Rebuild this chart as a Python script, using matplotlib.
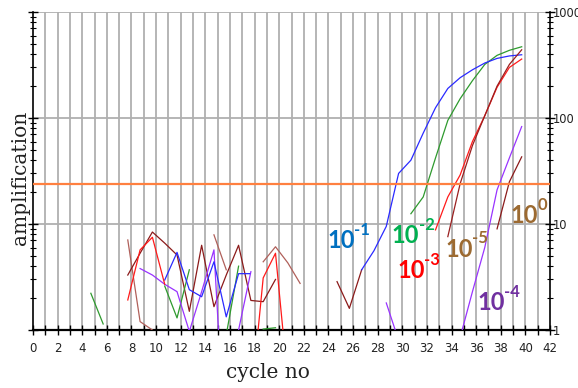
import numpy as np
import matplotlib
matplotlib.use("Agg")
import matplotlib.pyplot as plt
from matplotlib.ticker import LogLocator, NullFormatter, FixedLocator

nan = np.nan

# noise + amplification curves (x = cycle position, y = amplification)
blue_x = [10.7, 11.7, 12.7, 13.7, 14.7, 15.7, 16.7, 17.6, nan,
          26.7, 27.7, 28.7, 29.7, 30.7, 31.7, 32.7, 33.7, 34.7, 35.7, 36.7, 37.7, 38.7, 39.7]
blue_y = [2.96, 5.4, 2.4, 2.06, 4.4, 1.33, 3.4, 3.4, nan,
          3.7, 5.6, 9.5, 30, 40, 72, 125, 190, 240, 285, 330, 365, 385, 395]

green_x = [4.7, 5.7, nan, 10.7, 11.7, 12.7, nan, 15.7, 16.7, nan, 18.7, 19.7, nan,
           30.7, 31.7, 32.7, 33.7, 34.7, 35.7, 36.7, 37.7, 38.7, 39.7]
green_y = [2.22, 1.14, nan, 2.6, 1.3, 3.7, nan, 0.9, 4.0, nan, 1.02, 1.05, nan,
           12.5, 18, 42, 95, 152, 225, 320, 390, 435, 470]

red_x = [7.7, 8.7, 9.7, 10.7, nan, 17.7, 18.7, 19.7, 20.7, nan,
         32.7, 33.7, 34.7, 35.7, 36.7, 37.7, 38.7, 39.7]
red_y = [1.92, 5.7, 7.5, 2.7, nan, 0.2, 3.1, 5.3, 0.33, nan,
         8.8, 18, 29, 60, 105, 195, 300, 360]

purple_x = [8.7, 9.7, 10.7, 11.7, 12.7, 13.7, 14.7, 15.7, 16.7, 17.7, nan,
            28.7, 29.7, nan, 34.7, 35.7, 36.7, 37.7, 38.7, 39.7]
purple_y = [3.8, 3.3, 2.7, 2.3, 0.97, 2.3, 5.7, 0.05, 1.0, 3.55, nan,
            1.8, 0.8, nan, 0.85, 2.3, 6.0, 21, 42, 83]

maroon_x = [7.7, 8.7, 9.7, 10.7, 11.7, 12.7, 13.7, 14.7, 15.7, 16.7, 17.7, 18.7, 19.7, nan,
            24.7, 25.7, 26.7]
maroon_y = [3.3, 5.3, 8.4, 6.6, 5.1, 1.5, 6.3, 1.66, 3.3, 6.3, 1.9, 1.85, 3.0, nan,
            2.86, 1.6, 3.7]

rose_x = [7.7, 8.7, 9.7, nan, 14.7, 15.7, nan, 18.7, 19.7, 20.7, 21.7]
rose_y = [7.07, 1.2, 1.0, nan, 7.9, 3.7, nan, 4.4, 6.1, 4.3, 2.75]

m5_x = [33.7, 34.7, 35.7, 36.7, 37.7, 38.7, 39.7]
m5_y = [7.6, 24, 55, 105, 200, 320, 440]

m0_x = [37.7, 38.7, 39.7]
m0_y = [9.0, 25, 43]

threshold = 24

# dilution labels
lab_text = ["-1", "-2", "-3", "-5", "0", "-4"]
lab_x = [23.9, 29.16, 29.57, 33.5, 38.8, 36.07]
lab_y = [5.9, 6.58, 3.07, 4.92, 10.15, 1.545]
lab_col = ["#0070C0", "#00B050", "#FF0000", "#9C6A31", "#9C6A31", "#7030A0"]

fig = plt.figure(figsize=(5.78, 3.88), dpi=100)
ax = fig.add_axes([33 / 578, 1 - 330 / 388, 517 / 578, 318 / 388])

lw = 0.9
ax.plot(rose_x, rose_y, color="#B0605A", lw=lw, zorder=3)
ax.plot(maroon_x, maroon_y, color="#8B1A1A", lw=lw, zorder=3)
ax.plot(green_x, green_y, color="#2E9A2E", lw=lw, zorder=3)
ax.plot(purple_x, purple_y, color="#9933FF", lw=lw, zorder=3)
ax.plot(blue_x, blue_y, color="#2A2AFF", lw=lw, zorder=3)
ax.plot(red_x, red_y, color="#FF1A1A", lw=lw, zorder=3)
ax.plot(m5_x, m5_y, color="#9A1F1F", lw=lw, zorder=3)
ax.plot(m0_x, m0_y, color="#8B1A1A", lw=lw, zorder=3)
ax.axhline(threshold, color="#FF8040", lw=1.6, zorder=4)

ax.set_yscale("log")
ax.set_xlim(0, 42)
ax.set_ylim(1, 1000)

ax.xaxis.set_major_locator(FixedLocator(np.arange(0, 43, 2)))
ax.xaxis.set_minor_locator(FixedLocator(np.arange(1, 42, 2)))
ax.yaxis.set_minor_locator(LogLocator(base=10, subs=np.arange(2, 10)))
ax.yaxis.set_minor_formatter(NullFormatter())
ax.set_yticks([1, 10, 100, 1000])
ax.set_yticklabels(["1", "10", "100", "1000"])

ax.tick_params(axis="x", which="both", direction="inout", length=7, width=1,
               labelsize=8.5, labelcolor="#222222", pad=5)
ax.tick_params(axis="y", which="major", direction="inout", length=7, width=1,
               left=True, right=True, labelleft=False, labelright=True,
               labelsize=8.3, labelcolor="#222222", pad=-1.5)
ax.tick_params(axis="y", which="minor", direction="inout", length=4, width=0.8,
               left=True, right=True)

# vertical grid every cycle, horizontal at decades
for c in range(1, 42):
    ax.axvline(c, color="#B0B0B0", lw=1.3, zorder=1)
for v in [10, 100, 1000]:
    ax.axhline(v, color="#B0B0B0", lw=1.3, zorder=1)

ax.spines["top"].set_visible(False)
for s in ["left", "right", "bottom"]:
    ax.spines[s].set_linewidth(1.2)
ax.spines["bottom"].set_linewidth(1.6)

for t, x, y, c in zip(lab_text, lab_x, lab_y, lab_col):
    ax.annotate("10", xy=(x, y), fontsize=17, fontweight="bold", color=c,
                family="Lato", va="baseline", ha="left", zorder=5)
    ax.annotate(t, xy=(x, y), xytext=(19.5, 9.5), textcoords="offset points",
                fontsize=12, fontweight="bold", color=c, family="Lato",
                va="baseline", ha="left", zorder=5)

fig.text(268 / 578, 1 - 372 / 388, "cycle no", family="DejaVu Serif",
         fontsize=14.5, ha="center", va="center", color="#222222")
fig.text(21 / 578, 1 - 178 / 388, "amplification", family="DejaVu Serif",
         fontsize=14.5, ha="center", va="center", rotation=90, color="#222222")

fig.savefig("out.png", dpi=100, facecolor="white")
